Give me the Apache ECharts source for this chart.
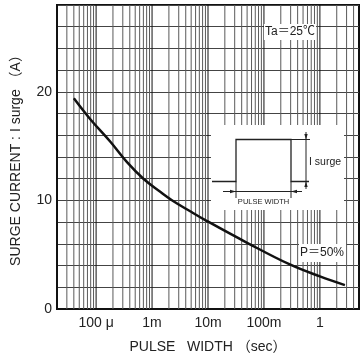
<!DOCTYPE html>
<html><head><meta charset="utf-8">
<script src="https://cdn.jsdelivr.net/npm/echarts@6/dist/echarts.min.js"></script>
<style>html,body{margin:0;padding:0;background:#fff;}#c{width:360px;height:359px;}</style>
</head><body><div id="c"></div>
<script>
// ---- data ----
const pulseWidth = [4e-5, 7.8e-5, 1.8e-4, 3.6e-4, 7e-4, 1.4e-3, 2.3e-3, 4.8e-3, 9.6e-3, 5e-2, 0.29, 1, 2.8];
const surgeCurrent = [19.4, 17.5, 15.4, 13.5, 12.0, 10.8, 10.0, 9.0, 8.1, 6.1, 4.1, 3.0, 2.2];
const xTickValues = [1e-4, 1e-3, 1e-2, 1e-1, 1];
const xTickLabels = ['100 μ', '1m', '10m', '100m', '1'];
const yTickLabels = [0, 10, 20];
const xMin = 2e-5, xMax = 5, yMin = 0, yMax = 28;

const FONT = '"Liberation Sans", Arial, "Noto Sans CJK JP", sans-serif';

// vertical grid lines at 1..9 x 10^k inside the range
const vLines = [];
for (let k = -5; k <= 0; k++) {
  for (let m = 1; m <= 9; m++) {
    const v = m * Math.pow(10, k);
    if (v > xMin * 1.0001 && v < xMax * 0.9999) vLines.push([v, m === 1 ? 1 : 0]);
  }
}

const chart = echarts.init(document.getElementById('c'), null, { renderer: 'canvas' });
chart.setOption({
  backgroundColor: '#fff',
  animation: false,
  grid: { left: 57, right: 1, top: 5, bottom: 50, show: true, borderColor: '#111', borderWidth: 2, outerBoundsMode: 'none', containLabel: false },
  xAxis: {
    type: 'log', logBase: 10, min: xMin, max: xMax,
    name: 'PULSE   WIDTH （sec）', nameLocation: 'middle', nameGap: 31,
    nameTextStyle: { fontFamily: FONT, fontSize: 14, color: '#222' },
    axisLine: { show: true, lineStyle: { color: '#111', width: 2 } },
    axisTick: { show: false },
    splitLine: { show: false },
    minorTick: { show: false }, minorSplitLine: { show: false },
    axisLabel: {
      fontFamily: FONT, fontSize: 14, color: '#222', margin: 7,
      showMinLabel: false, showMaxLabel: false,
      formatter: function (v) {
        for (let i = 0; i < xTickValues.length; i++) {
          if (Math.abs(Math.log10(v) - Math.log10(xTickValues[i])) < 1e-6) return xTickLabels[i];
        }
        return '';
      }
    }
  },
  yAxis: {
    type: 'value', min: yMin, max: yMax, interval: 2,
    name: 'SURGE CURRENT : I surge （A）', nameLocation: 'middle', nameGap: 34, nameRotate: 90,
    nameTextStyle: { fontFamily: FONT, fontSize: 14, color: '#222' },
    axisLine: { show: true, lineStyle: { color: '#111', width: 2 } },
    axisTick: { show: false },
    splitLine: { show: true, lineStyle: { color: '#444', width: 1 } },
    axisLabel: {
      fontFamily: FONT, fontSize: 14, color: '#222', margin: 5,
      formatter: function (v) { return yTickLabels.indexOf(v) >= 0 ? String(v) : ''; }
    }
  },
  series: [
    {
      type: 'custom', silent: true, z: 1, clip: true,
      data: vLines,
      encode: { x: 0, y: 1 },
      renderItem: function (params, api) {
        const v = api.value(0);
        const top = api.coord([v, yMax]);
        const bot = api.coord([v, yMin]);
        return {
          type: 'line',
          shape: { x1: top[0], y1: top[1], x2: bot[0], y2: bot[1] },
          style: { stroke: api.value(1) ? '#111' : '#5a5a5a', lineWidth: 1 }
        };
      }
    },
    {
      type: 'line', z: 10, smooth: 0.4, symbol: 'none',
      data: pulseWidth.map((x, i) => [x, surgeCurrent[i]]),
      lineStyle: { color: '#111', width: 2.5 }
    }
  ],
  graphic: [
    { type: 'rect', z: 100, shape: { x: 211, y: 125, width: 133, height: 85 }, style: { fill: '#fff' } },
    { type: 'polyline', z: 101, shape: { points: [[212, 181.5], [236, 181.5], [236, 139.5], [291, 139.5], [291, 181.5], [309, 181.5]] }, style: { stroke: '#222', lineWidth: 1.3, fill: null } },
    { type: 'line', z: 101, shape: { x1: 291, y1: 139.5, x2: 310, y2: 139.5 }, style: { stroke: '#222', lineWidth: 1 } },
    { type: 'line', z: 101, shape: { x1: 306, y1: 132, x2: 306, y2: 189 }, style: { stroke: '#222', lineWidth: 1 } },
    { type: 'polygon', z: 101, shape: { points: [[306, 139.5], [304.3, 134], [307.7, 134]] }, style: { fill: '#222' } },
    { type: 'polygon', z: 101, shape: { points: [[306, 181.5], [304.3, 187], [307.7, 187]] }, style: { fill: '#222' } },
    { type: 'line', z: 101, shape: { x1: 223, y1: 191.5, x2: 302, y2: 191.5 }, style: { stroke: '#222', lineWidth: 1 } },
    { type: 'polygon', z: 101, shape: { points: [[236, 191.5], [230, 189.8], [230, 193.2]] }, style: { fill: '#222' } },
    { type: 'polygon', z: 101, shape: { points: [[291, 191.5], [297, 189.8], [297, 193.2]] }, style: { fill: '#222' } },
    { type: 'line', z: 101, shape: { x1: 236, y1: 181.5, x2: 236, y2: 198 }, style: { stroke: '#222', lineWidth: 1 } },
    { type: 'line', z: 101, shape: { x1: 291, y1: 181.5, x2: 291, y2: 198 }, style: { stroke: '#222', lineWidth: 1 } },
    { type: 'text', z: 102, x: 263.5, y: 202, style: { text: 'PULSE WIDTH', fontFamily: FONT, fontSize: 7.5, fill: '#222', align: 'center', verticalAlign: 'middle' } },
    { type: 'text', z: 102, x: 309, y: 162, style: { text: 'I surge', fontFamily: FONT, fontSize: 10.5, fill: '#222', align: 'left', verticalAlign: 'middle' } },
    { type: 'text', z: 102, x: 264, y: 32, style: { text: 'Ta＝25℃', fontFamily: FONT, fontSize: 12, fill: '#222', align: 'left', verticalAlign: 'middle', backgroundColor: '#fff', padding: [2, 1, 2, 1] } },
    { type: 'text', z: 102, x: 299, y: 253, style: { text: 'P＝50%', fontFamily: FONT, fontSize: 12, fill: '#222', align: 'left', verticalAlign: 'middle', backgroundColor: '#fff', padding: [3, 2, 3, 1] } }
  ]
});
</script>
</body></html>
